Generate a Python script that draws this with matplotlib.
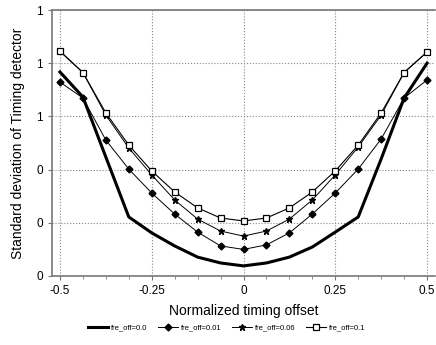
import numpy as np
import matplotlib
matplotlib.use('Agg')
import matplotlib.pyplot as plt
from matplotlib.ticker import MultipleLocator

plt.rcParams['font.family'] = ['Liberation Sans', 'DejaVu Sans']

# Данные: нормированное смещение и СКО детектора
offset = np.arange(-8, 9) / 16.0

sd_00 = [0.767, 0.673, 0.447, 0.222, 0.162, 0.113, 0.071, 0.049, 0.038,
         0.049, 0.071, 0.109, 0.165, 0.222, 0.440, 0.669, 0.800]
sd_001 = [0.729, 0.669, 0.511, 0.402, 0.312, 0.233, 0.165, 0.113, 0.100,
          0.117, 0.162, 0.233, 0.312, 0.402, 0.515, 0.669, 0.737]
sd_006 = [0.845, 0.765, 0.605, 0.481, 0.380, 0.286, 0.214, 0.169, 0.150,
          0.169, 0.214, 0.286, 0.380, 0.485, 0.605, 0.765, 0.842]
sd_01 = [0.845, 0.765, 0.613, 0.492, 0.395, 0.316, 0.256, 0.218, 0.207,
         0.218, 0.256, 0.316, 0.395, 0.492, 0.613, 0.765, 0.842]

xticks = [-0.5, -0.25, 0, 0.25, 0.5]
xtick_labels = ['-0.5', '-0.25', '0', '0.25', '0.5']
yticks = [0, 0.2, 0.4, 0.6, 0.8, 1.0]
ytick_labels = ['0', '0', '0', '1', '1', '1']

fig = plt.figure(figsize=(4.36, 3.45), dpi=100)
ax = fig.add_axes([0.119, 0.2, 0.879, 0.771])

ax.plot(offset, sd_00, color='black', lw=2.2, label='fre_off=0.0')
ax.plot(offset, sd_001, color='black', lw=0.7, marker='D', ms=3.5,
        label='fre_off=0.01')
ax.plot(offset, sd_006, color='black', lw=0.7, marker='*', ms=5,
        label='fre_off=0.06')
ax.plot(offset, sd_01, color='black', lw=0.8, marker='s', ms=4.5,
        mfc='white', mec='black', mew=0.9, label='fre_off=0.1')

ax.set_xlim(-0.522, 0.522)
ax.set_ylim(0, 1)
ax.set_xticks(xticks)
ax.set_xticklabels(xtick_labels)
ax.set_yticks(yticks)
ax.set_yticklabels(ytick_labels)
ax.xaxis.set_minor_locator(MultipleLocator(1 / 16))
ax.tick_params(axis='both', labelsize=8.5, length=3, color='#777777')
ax.tick_params(axis='x', which='minor', length=2, color='#777777')
ax.grid(True, linestyle=':', color='#888888', lw=0.8)

ax.spines['right'].set_visible(False)
for s in ['left', 'bottom', 'top']:
    ax.spines[s].set_color('#777777')
    ax.spines[s].set_linewidth(1.2)

ax.set_xlabel('Normalized timing offset', fontsize=10, labelpad=5)
ax.set_ylabel('Standard deviation of Timing detector', fontsize=10, labelpad=8)

fig.legend(loc='center', bbox_to_anchor=(0.52, 0.05), ncol=4, frameon=False,
           fontsize=5.5, handlelength=2.6, columnspacing=1.4, handletextpad=0.4)

fig.savefig('out.png', dpi=100)
